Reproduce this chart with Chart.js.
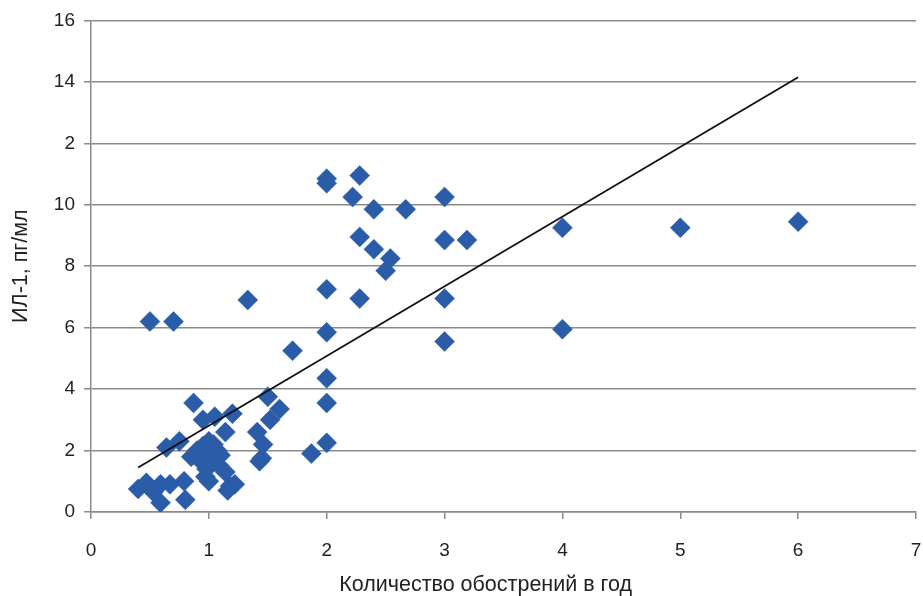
<!DOCTYPE html>
<html>
<head>
<meta charset="utf-8">
<script src="https://cdn.jsdelivr.net/npm/chart.js@4"></script>
<style>
    html, body { margin: 0; padding: 0; overflow: hidden; background: #fff; }
    #wrap { width: 923px; height: 596px; position: relative; }
</style>
</head>
<body>
<div id="wrap"><canvas id="scatter"></canvas></div>
<script>
"use strict";

// exacerbations per year (x) and IL-1 level (y)
const exacerbations = [0.40, 0.47, 0.53, 0.59, 0.67, 0.79, 0.59, 0.80, 0.64, 0.75,
    0.87, 0.95, 1.05, 1.20, 1.14,
    0.90, 0.95, 1.00, 1.04, 1.07, 0.92, 1.01, 0.98, 1.09, 1.03, 0.97, 1.00, 1.14, 1.18, 1.22, 1.16, 0.85, 1.10,
    1.41, 1.46, 1.45, 1.43, 1.50, 1.52, 1.60, 1.87,
    0.50, 0.70, 1.33, 1.71,
    2, 2, 2, 2, 2, 2, 2,
    2.22, 2.28, 2.40, 2.67, 2.28, 2.40, 2.54, 2.50, 2.28,
    3, 3, 3.19, 3, 3,
    4, 4, 5, 6];
const il1 = [0.75, 0.95, 0.65, 0.90, 0.90, 1.00, 0.30, 0.40, 2.10, 2.30,
    3.55, 3.00, 3.10, 3.20, 2.60,
    2.00, 2.15, 2.30, 2.20, 2.00, 1.70, 1.80, 1.40, 1.50, 1.60, 1.15, 1.00, 1.30, 0.85, 0.90, 0.70, 1.80, 1.85,
    2.60, 2.20, 1.75, 1.65, 3.75, 3.00, 3.35, 1.90,
    6.20, 6.20, 6.90, 5.25,
    10.85, 10.70, 7.25, 5.85, 4.35, 3.55, 2.25,
    10.25, 10.95, 9.85, 9.85, 8.95, 8.55, 8.25, 7.85, 6.95,
    10.25, 8.85, 8.85, 6.95, 5.55,
    9.25, 5.95, 9.25, 9.45];

// linear trend line end points
const trendX = [0.4, 6];
const trendY = [1.45, 14.15];

// y tick labels as printed in the source (12 is shown as "2")
const yTickLabels = ['0', '2', '4', '6', '8', '10', '2', '14', '16'];

const tickFont = { family: "'Liberation Sans', Arial, sans-serif", size: 19 };
const titleFont = { family: "'Liberation Sans', Arial, sans-serif", size: 21.5, lineHeight: 1 };
const gridGray = '#8a8a8a';

const drawChart = (canvas) => {
    const ctx = canvas.getContext('2d');
    new Chart(ctx, {
        type: 'scatter',
        data: {
            datasets: [{
                type: 'line',
                label: 'trend',
                data: trendX.map((x, i) => ({ x: x, y: trendY[i] })),
                borderColor: '#111',
                borderWidth: 1.8,
                pointRadius: 0,
                fill: false,
                order: 0
            }, {
                label: 'ИЛ-1',
                data: exacerbations.map((x, i) => ({ x: x, y: il1[i] })),
                pointStyle: 'rectRot',
                pointRadius: 10,
                pointHoverRadius: 10,
                backgroundColor: '#2a5ca8',
                borderColor: '#2a5ca8',
                borderWidth: 0.5,
                order: 1
            }]
        },
        options: {
            responsive: true,
            maintainAspectRatio: false,
            animation: false,
            events: [],
            // big markers would otherwise add extra padding round the plot
            layout: { autoPadding: false, padding: { top: 20, right: 7, left: 0, bottom: 0 } },
            plugins: {
                legend: { display: false },
                tooltip: { enabled: false }
            },
            scales: {
                x: {
                    type: 'linear',
                    min: 0,
                    max: 7,
                    afterFit: (scale) => {
                        scale.height = 84;
                        // tick padding would otherwise be added to the side padding
                        scale.paddingLeft = 0;
                        scale.paddingRight = 0;
                    },
                    ticks: { stepSize: 1, font: tickFont, color: '#222', padding: 20, maxRotation: 0 },
                    grid: { drawOnChartArea: false, drawTicks: true, tickLength: 7, color: gridGray, lineWidth: 1.5 },
                    border: { color: gridGray, width: 1.5 },
                    title: {
                        display: true,
                        // trailing spaces nudge the title left, as in the source
                        text: 'Количество обострений в год\u00a0\u00a0\u00a0\u00a0\u00a0\u00a0',
                        font: titleFont,
                        color: '#222',
                        padding: { top: 0, bottom: 0 }
                    }
                },
                y: {
                    min: 0,
                    max: 16,
                    afterFit: (scale) => { scale.width = 91; },
                    ticks: {
                        stepSize: 2,
                        font: tickFont,
                        color: '#222',
                        padding: 9,
                        callback: (value) => yTickLabels[value / 2]
                    },
                    grid: { color: gridGray, lineWidth: 1.5, tickLength: 7 },
                    border: { color: gridGray, width: 1.5 },
                    title: {
                        display: true,
                        text: 'ИЛ-1, пг/мл',
                        font: titleFont,
                        color: '#222',
                        padding: { top: 10, bottom: 0 }
                    }
                }
            }
        }
    });
}

document.addEventListener("DOMContentLoaded", () => {
    drawChart(document.getElementById('scatter'));
});
</script>
</body>
</html>
